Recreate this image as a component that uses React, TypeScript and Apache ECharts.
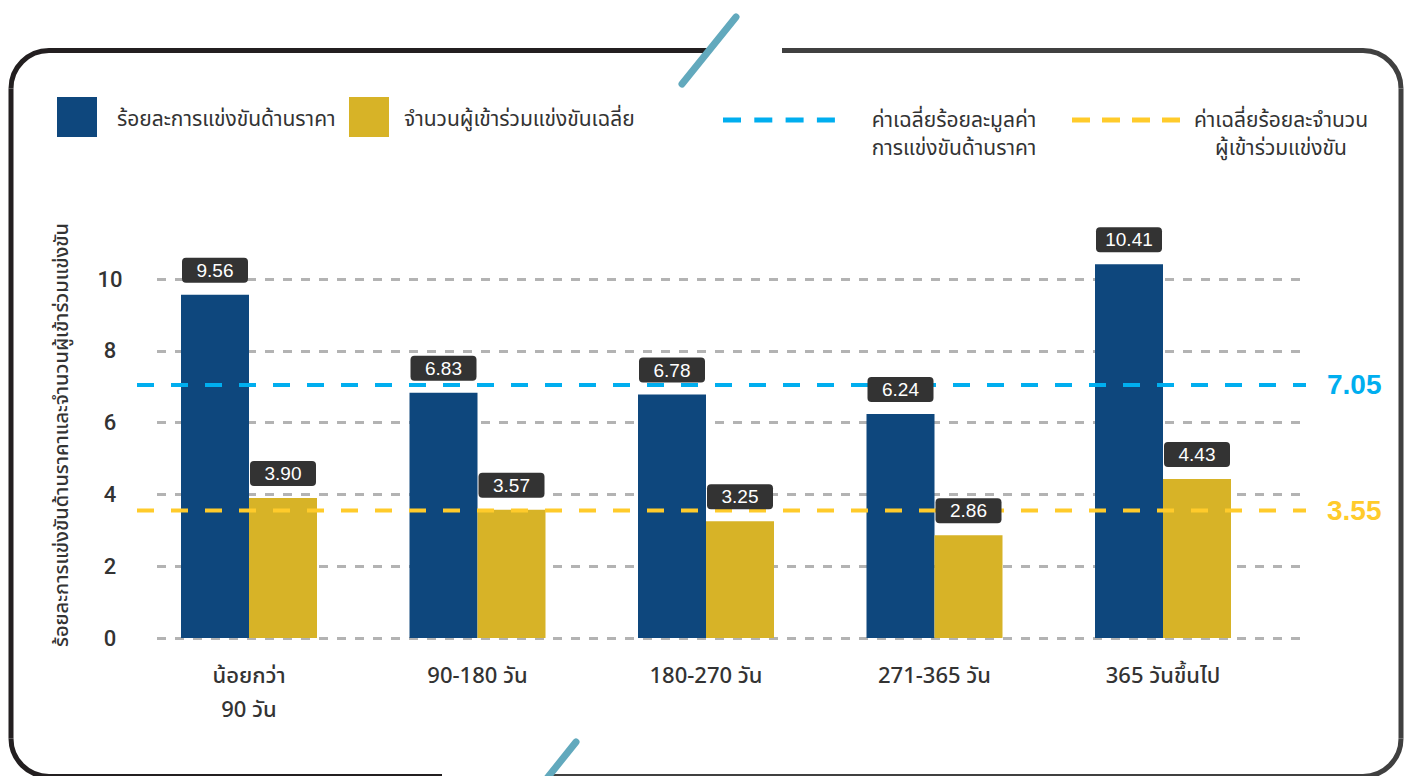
import React, { useEffect, useRef } from "react";
import * as echarts from "echarts";

const categories = ["น้อยกว่า\n90 วัน", "90-180 วัน", "180-270 วัน", "271-365 วัน", "365 วันขึ้นไป"];
const pricePct = [9.56, 6.83, 6.78, 6.24, 10.41];
const avgParticipants = [3.9, 3.57, 3.25, 2.86, 4.43];
const avgPricePct = 7.05;
const avgParticipantsPct = 3.55;
const yMin = 0;
const yMax = 10;
const yInterval = 2;

const seriesNames = ["ร้อยละการแข่งขันด้านราคา", "จำนวนผู้เข้าร่วมแข่งขันเฉลี่ย"];
const avgNames = ["ค่าเฉลี่ยร้อยละมูลค่า\nการแข่งขันด้านราคา", "ค่าเฉลี่ยร้อยละจำนวน\nผู้เข้าร่วมแข่งขัน"];
const yTitle = "ร้อยละการแข่งขันด้านราคาและจำนวนผู้เข้าร่วมแข่งขัน";

const BLUE = "#0e477d";
const GOLD = "#d7b327";
const LINE_BLUE = "#00aeef";
const LINE_GOLD = "#ffcb2b";
const TEXT = "#333333";
const THAI = "'Noto Sans Thai', 'Noto Sans', 'Liberation Sans', Arial, sans-serif";
const NUM = "'Liberation Sans', Arial, Helvetica, sans-serif";
const NUM_AXIS = "Roboto, 'Liberation Sans', Arial, sans-serif";

export default function App() {
  const ref = useRef<HTMLDivElement>(null);
  useEffect(() => {
    if (!ref.current) return;
    const chart = echarts.init(ref.current, undefined, { renderer: "svg" });

    const L = 11, R = 1401, T = 50.5, B = 776.5, r = 38;
    const dark = "#231f20";
    const gray = "#404040";
    const fr = (shape: any, stroke: string, type = "line") => ({
      type,
      shape,
      style: { stroke, lineWidth: 5, fill: "none" },
      silent: true,
    });

    const barLabel = (arr: number[]) => ({
      show: true,
      position: "top",
      distance: 12,
      formatter: (p: any) => arr[p.dataIndex].toFixed(2),
      backgroundColor: "#333333",
      borderRadius: 4,
      color: "#ffffff",
      fontSize: 19,
      fontFamily: NUM,
      lineHeight: 19,
      width: 66,
      align: "center",
      padding: [3, 0],
    });

    const option: any = {
      animation: false,
      backgroundColor: "#ffffff",
      grid: [
        { left: 134.75, top: 279, width: 1142.5, height: 359 },
        { left: 157, top: 279, width: 1148, height: 359 },
        { left: 137, top: 279, width: 1169, height: 359 },
      ],
      xAxis: [
        {
          gridIndex: 0,
          type: "category",
          data: categories,
          axisLine: { show: false },
          axisTick: { show: false },
          splitLine: { show: false },
          axisLabel: {
            fontSize: 22,
            fontWeight: 500,
            color: TEXT,
            lineHeight: 34,
            margin: 21,
            fontFamily: THAI,
          },
        },
        { gridIndex: 1, type: "value", min: 0, max: 1, show: false },
        { gridIndex: 2, type: "value", min: 0, max: 1, show: false },
      ],
      yAxis: [
        { gridIndex: 0, type: "value", min: yMin, max: yMax, interval: yInterval, show: false },
        {
          gridIndex: 1,
          type: "value",
          min: yMin,
          max: yMax,
          interval: yInterval,
          axisLine: { show: false },
          axisTick: { show: false },
          axisLabel: {
            fontSize: 22,
            fontWeight: 500,
            color: TEXT,
            align: "center",
            margin: 47,
            fontFamily: NUM_AXIS,
          },
          splitLine: { show: true, lineStyle: { type: [9, 9], color: "#b3b3b3", width: 3 } },
        },
        { gridIndex: 2, type: "value", min: yMin, max: yMax, interval: yInterval, show: false },
      ],
      series: [
        {
          name: seriesNames[0],
          type: "bar",
          xAxisIndex: 0,
          yAxisIndex: 0,
          stack: "price",
          data: pricePct,
          barWidth: 68,
          barGap: "0%",
          clip: false,
          z: 2,
          itemStyle: { color: BLUE },
        },
        {
          name: seriesNames[1],
          type: "bar",
          xAxisIndex: 0,
          yAxisIndex: 0,
          stack: "part",
          data: avgParticipants,
          barWidth: 68,
          barGap: "0%",
          clip: false,
          z: 2,
          itemStyle: { color: GOLD },
        },
        {
          name: "price-label",
          type: "bar",
          xAxisIndex: 0,
          yAxisIndex: 0,
          stack: "price",
          data: pricePct.map(() => 0),
          barWidth: 68,
          barGap: "0%",
          clip: false,
          z: 5,
          silent: true,
          itemStyle: { color: "rgba(0,0,0,0)" },
          label: barLabel(pricePct),
        },
        {
          name: "part-label",
          type: "bar",
          xAxisIndex: 0,
          yAxisIndex: 0,
          stack: "part",
          data: avgParticipants.map(() => 0),
          barWidth: 68,
          barGap: "0%",
          clip: false,
          z: 5,
          silent: true,
          itemStyle: { color: "rgba(0,0,0,0)" },
          label: barLabel(avgParticipants),
        },
        {
          name: avgNames[0],
          type: "line",
          xAxisIndex: 2,
          yAxisIndex: 2,
          data: [
            [0, avgPricePct],
            [1, avgPricePct],
          ],
          symbol: "none",
          z: 3,
          lineStyle: { color: LINE_BLUE, width: 4, type: [17, 17], cap: "butt" },
          endLabel: {
            show: true,
            formatter: () => avgPricePct.toFixed(2),
            color: LINE_BLUE,
            fontSize: 28,
            fontWeight: "bold",
            fontFamily: NUM,
            distance: 21,
          },
        },
        {
          name: avgNames[1],
          type: "line",
          xAxisIndex: 2,
          yAxisIndex: 2,
          data: [
            [0, avgParticipantsPct],
            [1, avgParticipantsPct],
          ],
          symbol: "none",
          z: 3,
          lineStyle: { color: LINE_GOLD, width: 4, type: [17, 17], cap: "butt" },
          endLabel: {
            show: true,
            formatter: () => avgParticipantsPct.toFixed(2),
            color: LINE_GOLD,
            fontSize: 28,
            fontWeight: "bold",
            fontFamily: NUM,
            distance: 21,
          },
        },
      ],
      graphic: [
        // frame, dark left part
        fr({ x1: L + r, y1: T, x2: 708, y2: T }, dark),
        fr({ x1: L, y1: T + r, x2: L, y2: B - r }, dark),
        fr({ cx: L + r, cy: T + r, r, startAngle: Math.PI, endAngle: Math.PI * 1.5, clockwise: true }, dark, "arc"),
        fr({ cx: L + r, cy: B - r, r, startAngle: Math.PI * 0.5, endAngle: Math.PI, clockwise: true }, dark, "arc"),
        fr({ x1: L + r, y1: B, x2: 442, y2: B }, dark),
        // frame, grey right part
        fr({ x1: 782, y1: T, x2: R - r, y2: T }, gray),
        fr({ cx: R - r, cy: T + r, r, startAngle: Math.PI * 1.5, endAngle: Math.PI * 2, clockwise: true }, gray, "arc"),
        fr({ x1: R, y1: T + r, x2: R, y2: B - r }, gray),
        fr({ cx: R - r, cy: B - r, r, startAngle: 0, endAngle: Math.PI * 0.5, clockwise: true }, gray, "arc"),
        fr({ x1: 552, y1: B, x2: R - r, y2: B }, gray),
        // slashes
        {
          type: "line",
          shape: { x1: 736, y1: 17, x2: 682, y2: 84 },
          style: { stroke: "#62a9bd", lineWidth: 7, lineCap: "round" },
          silent: true,
        },
        {
          type: "line",
          shape: { x1: 576, y1: 742, x2: 540, y2: 787 },
          style: { stroke: "#62a9bd", lineWidth: 7, lineCap: "round" },
          silent: true,
        },
        // legend
        { type: "rect", shape: { x: 57, y: 97, width: 40, height: 40 }, style: { fill: BLUE }, silent: true },
        {
          type: "text",
          x: 117,
          y: 119,
          style: { text: seriesNames[0], fontSize: 21, fill: TEXT, fontFamily: THAI, verticalAlign: "middle" },
          silent: true,
        },
        { type: "rect", shape: { x: 349, y: 97, width: 40, height: 40 }, style: { fill: GOLD }, silent: true },
        {
          type: "text",
          x: 404,
          y: 119,
          style: { text: seriesNames[1], fontSize: 21, fill: TEXT, fontFamily: THAI, verticalAlign: "middle" },
          silent: true,
        },
        {
          type: "line",
          shape: { x1: 723, y1: 120, x2: 835, y2: 120 },
          style: { stroke: LINE_BLUE, lineWidth: 5, lineDash: [18, 13.3] },
          silent: true,
        },
        {
          type: "text",
          x: 954,
          y: 134,
          style: {
            text: avgNames[0],
            fontSize: 21,
            lineHeight: 28,
            fill: TEXT,
            fontFamily: THAI,
            align: "center",
            verticalAlign: "middle",
          },
          silent: true,
        },
        {
          type: "line",
          shape: { x1: 1072, y1: 120, x2: 1180, y2: 120 },
          style: { stroke: LINE_GOLD, lineWidth: 5, lineDash: [18, 12] },
          silent: true,
        },
        {
          type: "text",
          x: 1281,
          y: 134,
          style: {
            text: avgNames[1],
            fontSize: 21,
            lineHeight: 28,
            fill: TEXT,
            fontFamily: THAI,
            align: "center",
            verticalAlign: "middle",
          },
          silent: true,
        },
        // y axis title
        {
          type: "text",
          x: 62,
          y: 435,
          rotation: Math.PI / 2,
          style: {
            text: yTitle,
            fontSize: 20,
            fill: TEXT,
            fontFamily: THAI,
            fontWeight: 500,
            align: "center",
            verticalAlign: "middle",
          },
          silent: true,
        },
      ],
    };

    chart.setOption(option);
    return () => chart.dispose();
  }, []);

  return (
    <div
      ref={ref}
      style={{ position: "absolute", left: 0, top: 0, width: 1407, height: 776, background: "#fff" }}
    />
  );
}
